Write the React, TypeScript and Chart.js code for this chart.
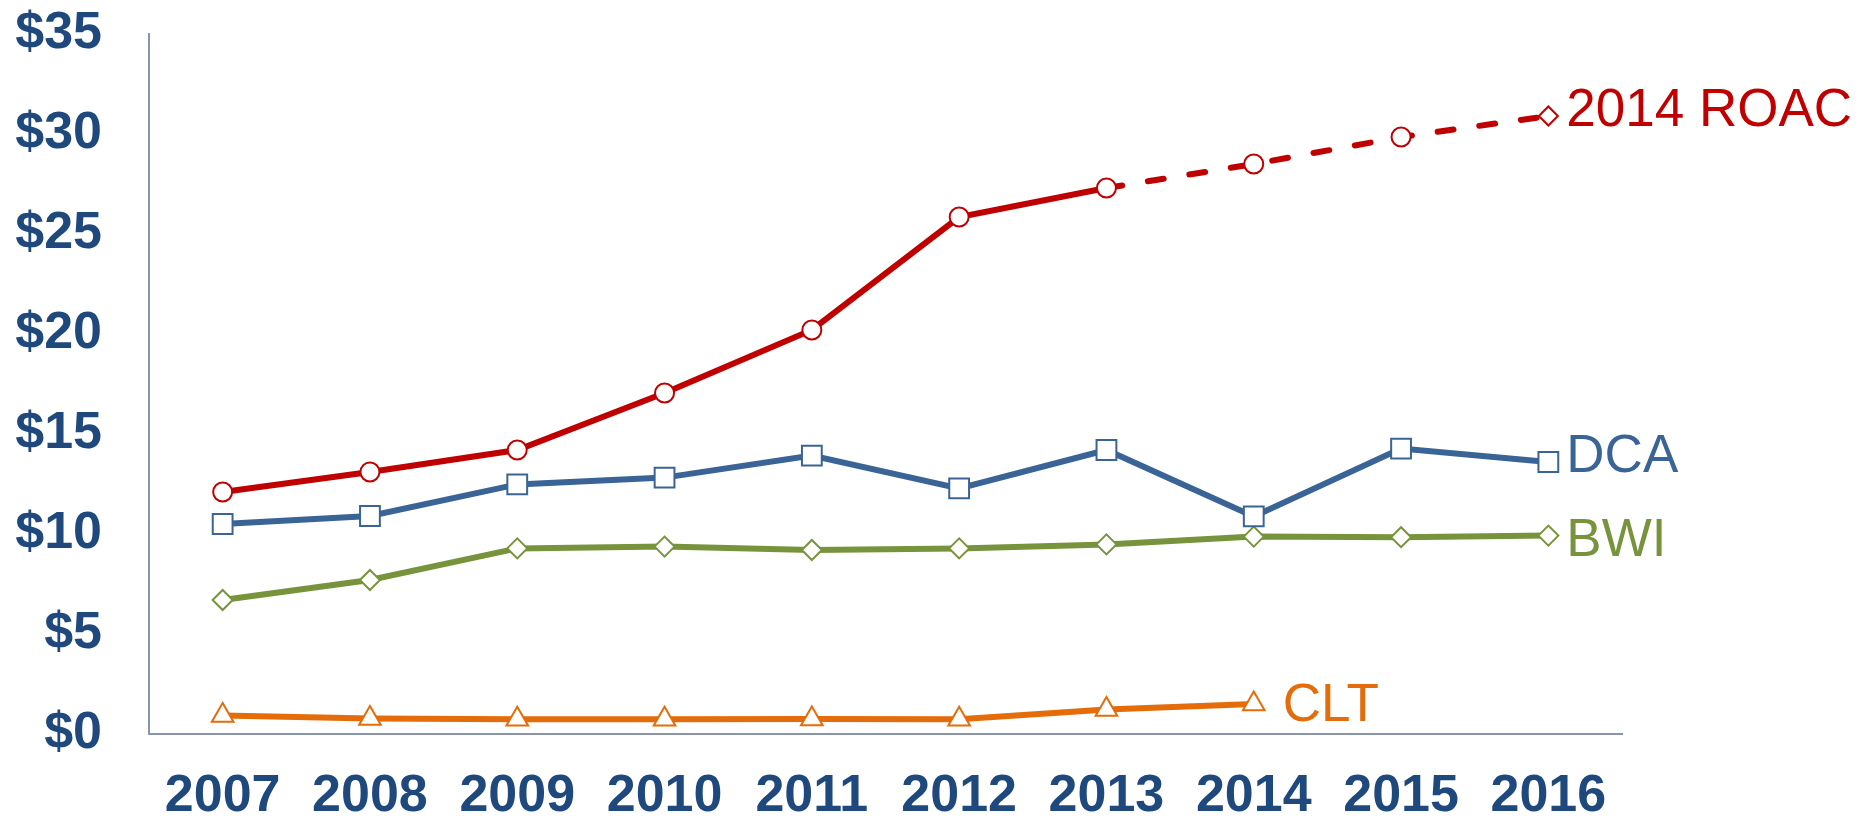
import React, { useEffect, useRef } from "react";
import { Chart, registerables } from "chart.js";

Chart.register(...registerables);

const years = ["2007", "2008", "2009", "2010", "2011", "2012", "2013", "2014", "2015", "2016"];
const roac = [12.1, 13.1, 14.2, 17.05, 20.2, 25.85, 27.3, 28.5, 29.85, 30.9];
const dca = [10.5, 10.9, 12.48, 12.82, 13.92, 12.28, 14.2, 10.88, 14.27, 13.6];
const bwi = [6.7, 7.7, 9.28, 9.37, 9.2, 9.28, 9.48, 9.87, 9.84, 9.92];
const clt = [0.93, 0.78, 0.74, 0.74, 0.75, 0.74, 1.22, 1.5, null, null];
const yTicks = [0, 5, 10, 15, 20, 25, 30, 35];

const FONT = '"Liberation Sans", Arial, Helvetica, sans-serif';
const RED = "#C00000";
const BLUE = "#3A6496";
const GREEN = "#77933C";
const ORANGE = "#E46C0A";
const NAVY = "#1F497D";
const AXIS = "#8B94AD";

const endLabels = {
  id: "endLabels",
  afterDatasetsDraw(chart: any) {
    const ctx = chart.ctx;
    const cfg: Record<string, { dx: number; dy: number }> = {
      "2014 ROAC": { dx: 18, dy: 10 },
      DCA: { dx: 18, dy: 10 },
      BWI: { dx: 18, dy: 20 },
      CLT: { dx: 29, dy: 17 },
    };
    chart.data.datasets.forEach((ds: any, i: number) => {
      const meta = chart.getDatasetMeta(i);
      let last = -1;
      ds.data.forEach((v: any, j: number) => {
        if (v !== null && v !== undefined) last = j;
      });
      if (last < 0) return;
      const el = meta.data[last];
      const c = cfg[ds.label] || { dx: 18, dy: 10 };
      ctx.save();
      ctx.font = `53px ${FONT}`;
      ctx.fillStyle = ds.borderColor;
      ctx.textAlign = "left";
      ctx.textBaseline = "alphabetic";
      ctx.fillText(ds.label, el.x + c.dx, el.y + c.dy);
      ctx.restore();
    });
  },
};

export default function App() {
  const ref = useRef<HTMLCanvasElement | null>(null);
  useEffect(() => {
    if (!ref.current) return;
    const chart = new Chart(ref.current, {
      type: "line",
      data: {
        labels: years,
        datasets: [
          {
            label: "2014 ROAC",
            data: roac,
            borderColor: RED,
            backgroundColor: "#FFFFFF",
            borderWidth: 6,
            pointStyle: roac.map((_, i) => (i === roac.length - 1 ? "rectRot" : "circle")) as any,
            pointRadius: 9.5,
            pointBorderWidth: 2,
            pointBackgroundColor: "#FFFFFF",
            pointBorderColor: RED,
            borderCapStyle: "round",
            segment: {
              borderDash: (c: any) => (c.p0DataIndex >= 6 ? [16, 26] : undefined),
            },
          },
          {
            label: "DCA",
            data: dca,
            borderColor: BLUE,
            backgroundColor: "#FFFFFF",
            borderWidth: 6,
            pointStyle: "rect",
            pointRadius: 14,
            pointBorderWidth: 2,
            pointBackgroundColor: "#FFFFFF",
            pointBorderColor: BLUE,
          },
          {
            label: "BWI",
            data: bwi,
            borderColor: GREEN,
            backgroundColor: "#FFFFFF",
            borderWidth: 6,
            pointStyle: "rectRot",
            pointRadius: 10,
            pointBorderWidth: 2,
            pointBackgroundColor: "#FFFFFF",
            pointBorderColor: GREEN,
          },
          {
            label: "CLT",
            data: clt,
            borderColor: ORANGE,
            backgroundColor: "#FFFFFF",
            borderWidth: 6,
            pointStyle: "triangle",
            pointRadius: 12.5,
            pointBorderWidth: 2,
            pointBackgroundColor: "#FFFFFF",
            pointBorderColor: ORANGE,
          },
        ],
      },
      options: {
        animation: false,
        responsive: true,
        maintainAspectRatio: false,
        layout: { padding: { top: 34, right: 250, left: 0, bottom: 0 } },
        plugins: {
          legend: { display: false },
          tooltip: { enabled: false },
        },
        scales: {
          x: {
            offset: true,
            grid: { display: false, drawTicks: false },
            border: { display: true, color: AXIS, width: 2 },
            ticks: {
              color: NAVY,
              font: { family: FONT, size: 52, weight: "bold" },
              padding: 31,
              maxRotation: 0,
              autoSkip: false,
            },
            afterFit: (s: any) => {
              s.height = 86;
              s.paddingLeft = 0;
              s.paddingRight = 0;
            },
          },
          y: {
            min: 0,
            max: 35,
            afterBuildTicks: (s: any) => {
              s.ticks = yTicks.map((v) => ({ value: v }));
            },
            grid: { display: false, drawTicks: false },
            border: { display: true, color: AXIS, width: 2 },
            ticks: {
              color: NAVY,
              font: { family: FONT, size: 52, weight: "bold" },
              padding: 47,
              callback: (v: any) => "$" + v,
            },
            afterFit: (s: any) => {
              s.width = 149;
              s.paddingTop = 0;
              s.paddingBottom = 0;
            },
          },
        },
      },
      plugins: [endLabels],
    });
    return () => chart.destroy();
  }, []);
  return (
    <div style={{ position: "fixed", left: 0, top: 0, width: 1872, height: 820, background: "#fff" }}>
      <canvas ref={ref} />
    </div>
  );
}
